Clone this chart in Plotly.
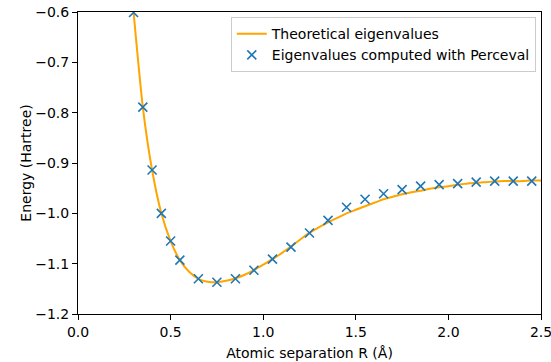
import plotly.graph_objects as go

# Theoretical curve
theo_R = [0.30, 0.35, 0.40, 0.45, 0.50, 0.55, 0.60, 0.65, 0.70, 0.75, 0.80, 0.85,
          0.90, 0.95, 1.00, 1.05, 1.10, 1.15, 1.20, 1.25, 1.30, 1.35, 1.40, 1.45,
          1.50, 1.55, 1.60, 1.65, 1.70, 1.75, 1.80, 1.85, 1.90, 1.95, 2.00, 2.05,
          2.10, 2.15, 2.20, 2.25, 2.30, 2.35, 2.40, 2.45, 2.50]
theo_E = [-0.600, -0.789, -0.914, -1.000, -1.055, -1.093, -1.116, -1.130, -1.136,
          -1.137, -1.134, -1.129, -1.122, -1.113, -1.102, -1.091, -1.079, -1.066,
          -1.052, -1.039, -1.028, -1.018, -1.009, -1.000, -0.993, -0.986, -0.979,
          -0.972, -0.967, -0.962, -0.958, -0.955, -0.951, -0.948, -0.946, -0.943,
          -0.941, -0.939, -0.938, -0.937, -0.936, -0.936, -0.936, -0.935, -0.935]

# Eigenvalues computed with Perceval
perc_R = [0.30, 0.35, 0.40, 0.45, 0.50, 0.55, 0.65, 0.75, 0.85, 0.95, 1.05, 1.15,
          1.25, 1.35, 1.45, 1.55, 1.65, 1.75, 1.85, 1.95, 2.05, 2.15, 2.25, 2.35, 2.45]
perc_E = [-0.601, -0.789, -0.914, -1.000, -1.055, -1.093, -1.130, -1.137, -1.130,
          -1.113, -1.091, -1.067, -1.039, -1.014, -0.988, -0.972, -0.961, -0.953,
          -0.946, -0.943, -0.941, -0.938, -0.936, -0.936, -0.936]

x_ticks = [0.0, 0.5, 1.0, 1.5, 2.0, 2.5]
y_ticks = [-1.2, -1.1, -1.0, -0.9, -0.8, -0.7, -0.6]

FONT = "DejaVu Sans"
FS = 14

fig = go.Figure()
fig.add_trace(go.Scatter(
    x=theo_R, y=theo_E, mode="lines", name="Theoretical eigenvalues",
    line=dict(color="#FFA500", width=2, shape="spline", smoothing=0.6),
))
fig.add_trace(go.Scatter(
    x=perc_R, y=perc_E, mode="markers", name="Eigenvalues computed with Perceval",
    marker=dict(symbol="x-thin", size=9, color="#1f77b4",
                line=dict(color="#1f77b4", width=1.6)),
))

axis_common = dict(
    showgrid=False, zeroline=False, showline=True, linecolor="#000000",
    linewidth=1, mirror=True, ticks="outside", ticklen=5, tickcolor="#000000",
    tickfont=dict(family=FONT, size=FS, color="#000000"), tickformat=".1f",
    automargin=False, ticklabeloverflow="allow",
)
fig.update_xaxes(range=[0, 2.5], tickvals=x_ticks,
                 title=dict(text="Atomic separation R (Å)",
                            font=dict(family=FONT, size=FS, color="#000000"),
                            standoff=9),
                 **axis_common)
fig.update_yaxes(range=[-1.2, -0.6], tickvals=y_ticks,
                 title=dict(text="Energy (Hartree)",
                            font=dict(family=FONT, size=FS, color="#000000"),
                            standoff=0),
                 **axis_common)

fig.update_layout(
    width=551, height=362,
    margin=dict(l=78, r=10, t=12, b=48),
    paper_bgcolor="white", plot_bgcolor="white",
    font=dict(family=FONT, size=FS, color="#000000"),
    legend=dict(x=0.33, y=0.983, xanchor="left", yanchor="top",
                bgcolor="rgba(255,255,255,0.8)", bordercolor="#cccccc",
                borderwidth=1, font=dict(family=FONT, size=FS, color="#000000"),
                itemwidth=30, tracegroupgap=0),
    showlegend=True,
)

fig.write_html("out.html", config={"displayModeBar": False},
               post_script="document.body.style.margin='0';document.body.style.overflow='hidden';")
